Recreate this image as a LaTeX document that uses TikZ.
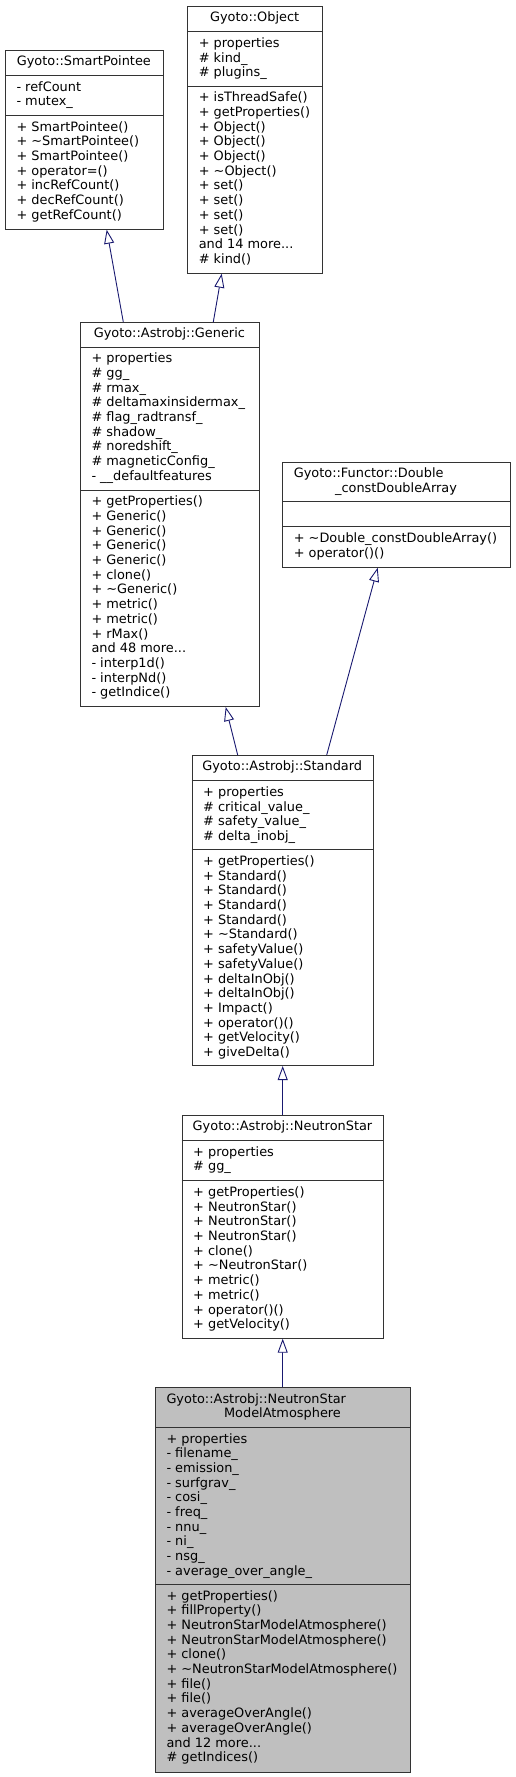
\documentclass[tikz,border=0pt]{standalone}
\usepackage{fontspec}
\setmainfont{DejaVu Sans}
\usetikzlibrary{arrows.meta}
\definecolor{edgeblue}{HTML}{191970}
\definecolor{mainfill}{HTML}{BFBFBF}
\definecolor{boxline}{HTML}{333333}
\newcommand{\ls}[1]{\begin{tabular}[t]{@{}l@{}}#1\end{tabular}}
\tikzset{
  cls/.style={draw=boxline, line width=1pt, fill=white, rectangle, inner sep=0pt, anchor=north west},
  mcls/.style={cls, fill=mainfill},
  txt/.style={inner sep=0pt, anchor=base west, font=\fontsize{12.9}{14.7}\selectfont},
  ttl/.style={inner sep=0pt, anchor=base, font=\fontsize{12.9}{14.7}\selectfont},
  divl/.style={draw=boxline, line width=1pt},
  inh/.style={draw=edgeblue, line width=0.9pt, -{Triangle[length=14pt,width=10pt,fill=white,line width=0.9pt]}}
}
\begin{document}
\begin{tikzpicture}[x=1pt,y=-1pt]
\useasboundingbox (0,0) rectangle (515,1777);

% SmartPointee
\node[cls, minimum width=157.7pt, minimum height=178.7pt] (sp) at (5,50) {};
\draw[divl] (sp.west |- 0,75.3) -- (sp.east |- 0,75.3);
\draw[divl] (sp.west |- 0,115.3) -- (sp.east |- 0,115.3);
\node[ttl] (spT) at (83.85,65.7) {Gyoto::SmartPointee};
\node[txt] (spA) at (16.3,91) {\ls{- refCount\\- mutex\_}};
\node[txt] (spM) at (16.3,131) {\ls{+ SmartPointee()\\+ \textasciitilde SmartPointee()\\+ SmartPointee()\\+ operator=()\\+ incRefCount()\\+ decRefCount()\\+ getRefCount()}};

% Object
\node[cls, minimum width=134.7pt, minimum height=267pt] (obj) at (187.3,5.7) {};
\draw[divl] (obj.west |- 0,31.7) -- (obj.east |- 0,31.7);
\draw[divl] (obj.west |- 0,86) -- (obj.east |- 0,86);
\node[ttl] (objT) at (254.65,21.4) {Gyoto::Object};
\node[txt] (objA) at (198.6,47.4) {\ls{+ properties\\\# kind\_\\\# plugins\_}};
\node[txt] (objM) at (198.6,101.7) {\ls{+ isThreadSafe()\\+ getProperties()\\+ Object()\\+ Object()\\+ Object()\\+ \textasciitilde Object()\\+ set()\\+ set()\\+ set()\\+ set()\\and 14 more...\\\# kind()}};

% Generic
\node[cls, minimum width=178.7pt, minimum height=384pt] (gen) at (80,322) {};
\draw[divl] (gen.west |- 0,347) -- (gen.east |- 0,347);
\draw[divl] (gen.west |- 0,490) -- (gen.east |- 0,490);
\node[ttl] (genT) at (169.35,337.7) {Gyoto::Astrobj::Generic};
\node[txt] (genA) at (91.3,362.7) {\ls{+ properties\\\# gg\_\\\# rmax\_\\\# deltamaxinsidermax\_\\\# flag\_radtransf\_\\\# shadow\_\\\# noredshift\_\\\# magneticConfig\_\\- \_\_defaultfeatures}};
\node[txt] (genM) at (91.3,505.7) {\ls{+ getProperties()\\+ Generic()\\+ Generic()\\+ Generic()\\+ Generic()\\+ clone()\\+ \textasciitilde Generic()\\+ metric()\\+ metric()\\+ rMax()\\and 48 more...\\- interp1d()\\- interpNd()\\- getIndice()}};

% Functor
\node[cls, minimum width=227.4pt, minimum height=105pt] (fun) at (282.3,461.7) {};
\draw[divl] (fun.west |- 0,501) -- (fun.east |- 0,501);
\draw[divl] (fun.west |- 0,526.7) -- (fun.east |- 0,526.7);
\node[txt] (funT1) at (293.6,477.4) {Gyoto::Functor::Double};
\node[ttl] (funT2) at (396,492.1) {\_constDoubleArray};
\node[txt] (funM) at (293.6,542.4) {\ls{+ \textasciitilde Double\_constDoubleArray()\\+ operator()()}};

% Standard
\node[cls, minimum width=181pt, minimum height=310pt] (std) at (191.7,755) {};
\draw[divl] (std.west |- 0,780.7) -- (std.east |- 0,780.7);
\draw[divl] (std.west |- 0,849.7) -- (std.east |- 0,849.7);
\node[ttl] (stdT) at (282.2,770.7) {Gyoto::Astrobj::Standard};
\node[txt] (stdA) at (203,796.4) {\ls{+ properties\\\# critical\_value\_\\\# safety\_value\_\\\# delta\_inobj\_}};
\node[txt] (stdM) at (203,865.4) {\ls{+ getProperties()\\+ Standard()\\+ Standard()\\+ Standard()\\+ Standard()\\+ \textasciitilde Standard()\\+ safetyValue()\\+ safetyValue()\\+ deltaInObj()\\+ deltaInObj()\\+ Impact()\\+ operator()()\\+ getVelocity()\\+ giveDelta()}};

% NeutronStar
\node[cls, minimum width=201.6pt, minimum height=222.7pt] (ns) at (181.7,1115) {};
\draw[divl] (ns.west |- 0,1140.3) -- (ns.east |- 0,1140.3);
\draw[divl] (ns.west |- 0,1180.7) -- (ns.east |- 0,1180.7);
\node[ttl] (nsT) at (282.5,1130.7) {Gyoto::Astrobj::NeutronStar};
\node[txt] (nsA) at (193,1156) {\ls{+ properties\\\# gg\_}};
\node[txt] (nsM) at (193,1196.4) {\ls{+ getProperties()\\+ NeutronStar()\\+ NeutronStar()\\+ NeutronStar()\\+ clone()\\+ \textasciitilde NeutronStar()\\+ metric()\\+ metric()\\+ operator()()\\+ getVelocity()}};

% NeutronStarModelAtmosphere
\node[mcls, minimum width=255pt, minimum height=384.4pt] (nsma) at (155,1387.3) {};
\draw[divl] (nsma.west |- 0,1427.3) -- (nsma.east |- 0,1427.3);
\draw[divl] (nsma.west |- 0,1584.3) -- (nsma.east |- 0,1584.3);
\node[txt] (nsmaT1) at (166.3,1403) {Gyoto::Astrobj::NeutronStar};
\node[ttl] (nsmaT2) at (282.5,1417.7) {ModelAtmosphere};
\node[txt] (nsmaA) at (166.3,1443) {\ls{+ properties\\- filename\_\\- emission\_\\- surfgrav\_\\- cosi\_\\- freq\_\\- nnu\_\\- ni\_\\- nsg\_\\- average\_over\_angle\_}};
\node[txt] (nsmaM) at (166.3,1600) {\ls{+ getProperties()\\+ fillProperty()\\+ NeutronStarModelAtmosphere()\\+ NeutronStarModelAtmosphere()\\+ clone()\\+ \textasciitilde NeutronStarModelAtmosphere()\\+ file()\\+ file()\\+ averageOverAngle()\\+ averageOverAngle()\\and 12 more...\\\# getIndices()}};

% inheritance edges
\draw[inh] ([xshift=43.3pt]gen.north west) -- ([xshift=101.7pt]sp.south west);
\draw[inh] ([xshift=133.3pt]gen.north west) -- ([xshift=34.4pt]obj.south west);
\draw[inh] ([xshift=46pt]std.north west) -- ([xshift=145.7pt]gen.south west);
\draw[inh] ([xshift=135pt]std.north west) -- ([xshift=95.4pt]fun.south west);
\draw[inh] ([xshift=101pt]ns.north west) -- ([xshift=91pt]std.south west);
\draw[inh] ([xshift=127.7pt]nsma.north west) -- ([xshift=101pt]ns.south west);
\end{tikzpicture}
\end{document}
